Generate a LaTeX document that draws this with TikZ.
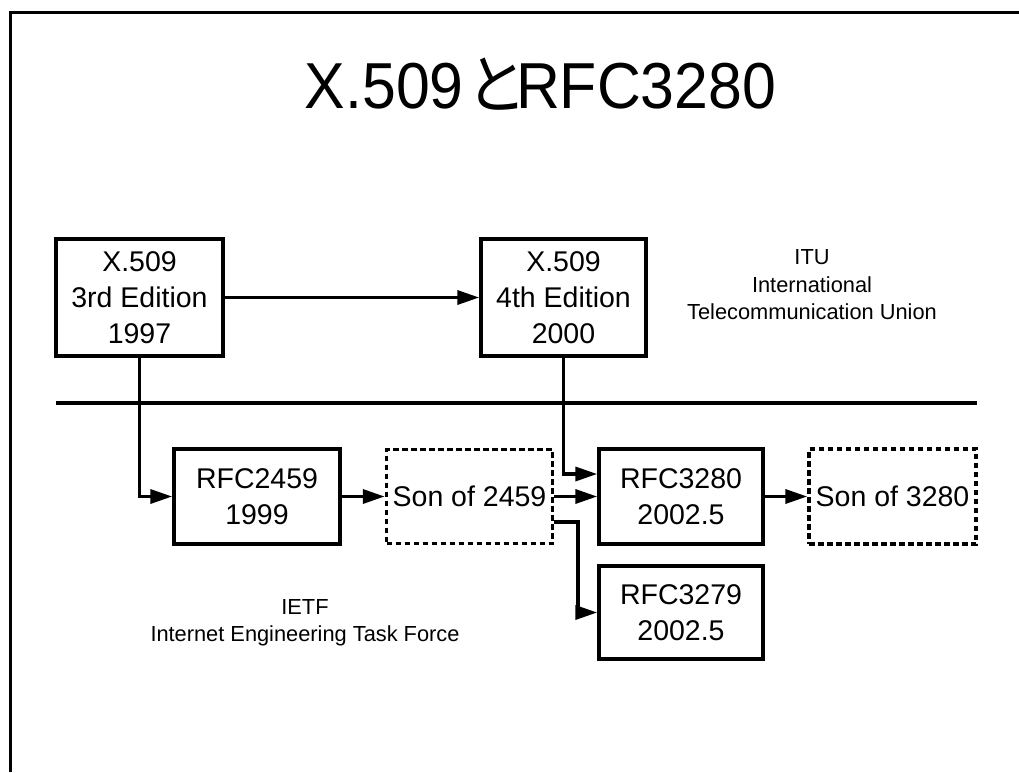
\documentclass[tikz,border=0pt]{standalone}
\usepackage{fontspec}
\setmainfont{Liberation Sans}
\newfontfamily\cjk{Noto Sans CJK JP}
\usetikzlibrary{arrows.meta}
\begin{document}
\begin{tikzpicture}[x=1pt,y=-1pt,
  solidbox/.style={draw,line width=3.5pt,inner sep=0pt,align=center,font=\fontsize{28.5}{36}\selectfont},
  dashbox/.style={solidbox,dash pattern=on 5.5pt off 3.5pt},
  conn/.style={line width=3.5pt,-{Triangle[length=22pt,width=14pt]}},
  rule/.style={line width=3.5pt},
  lbl/.style={align=center,font=\fontsize{21.8}{27.5}\selectfont}]
\useasboundingbox (0,0) rectangle (1019,772);
% frame
\coordinate (fb) at (10.5,772);
\coordinate (fr) at (1019,12.5);
\draw[rule] (fb) |- (fr);
% title
\node[anchor=base,inner sep=0pt,font=\fontsize{65}{65}\selectfont] (title) at (540.5,108)
  {\scalebox{0.935}[1]{X.509\hspace{3pt}{\cjk と}\hspace{-12pt}RFC3280}};
% separator
\coordinate (sepL) at (56,403);
\coordinate (sepR) at (977,403);
\draw[rule] (sepL) -- (sepR);
% boxes
\node[solidbox,minimum width=167pt,minimum height=117pt] (x3) at (139.5,297.5) {X.509\\3rd Edition\\1997};
\node[solidbox,minimum width=165pt,minimum height=117pt] (x4) at (563.5,297.5) {X.509\\4th Edition\\2000};
\node[solidbox,minimum width=166pt,minimum height=95pt] (r2459) at (257,496.5) {RFC2459\\1999};
\node[dashbox,minimum width=166pt,minimum height=94pt] (s2459) at (469.5,496.5) {Son of 2459};
\node[solidbox,minimum width=164pt,minimum height=95pt] (r3280) at (681,496.5) {RFC3280\\2002.5};
\node[dashbox,minimum width=167pt,minimum height=95pt] (s3280) at (892.5,496.5) {Son of 3280};
\node[solidbox,minimum width=164pt,minimum height=93pt] (r3279) at (681,612.5) {RFC3279\\2002.5};
% labels
\node[lbl] (itu) at (812,285) {ITU\\International\\Telecommunication Union};
\node[lbl] (ietf) at (305,622.5) {IETF\\Internet Engineering Task Force};
% connectors
\draw[conn] (x3.east) -- (x4.west);
\draw[conn] (x3.south) |- (r2459.west);
\draw[conn] (x4.south) |- ([yshift=22.5pt]r3280.west);
\draw[conn] (r2459.east) -- (s2459.west);
\draw[conn] (s2459.east) -- (r3280.west);
\draw[conn] ([yshift=-25.5pt]s2459.east) -- ++(23.5,0) |- (r3279.west);
\draw[conn] (r3280.east) -- (s3280.west);
\end{tikzpicture}
\end{document}
